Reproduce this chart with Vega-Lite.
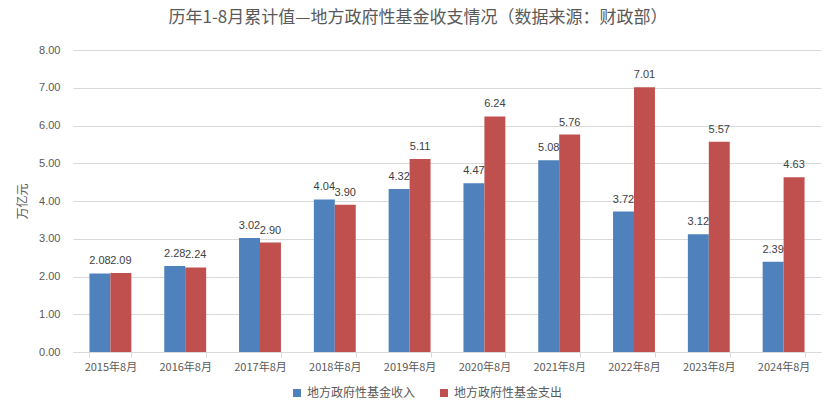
{
  "$schema": "https://vega.github.io/schema/vega-lite/v6.json",
  "autosize": "none",
  "width": 748,
  "height": 302,
  "padding": {"left": 73, "top": 50, "right": 15, "bottom": 63},
  "background": "white",
  "title": {
    "text": "历年1-8月累计值—地方政府性基金收支情况（数据来源：财政部）",
    "fontSize": 17,
    "font": "Noto Sans CJK SC",
    "fontWeight": "normal",
    "color": "#595959",
    "anchor": "middle",
    "dx": -29,
    "offset": 17
  },
  "data": {
    "values": [
      {"period": "2015年8月", "series": "地方政府性基金收入", "value": 2.08},
      {"period": "2015年8月", "series": "地方政府性基金支出", "value": 2.09},
      {"period": "2016年8月", "series": "地方政府性基金收入", "value": 2.28},
      {"period": "2016年8月", "series": "地方政府性基金支出", "value": 2.24},
      {"period": "2017年8月", "series": "地方政府性基金收入", "value": 3.02},
      {"period": "2017年8月", "series": "地方政府性基金支出", "value": 2.90},
      {"period": "2018年8月", "series": "地方政府性基金收入", "value": 4.04},
      {"period": "2018年8月", "series": "地方政府性基金支出", "value": 3.90},
      {"period": "2019年8月", "series": "地方政府性基金收入", "value": 4.32},
      {"period": "2019年8月", "series": "地方政府性基金支出", "value": 5.11},
      {"period": "2020年8月", "series": "地方政府性基金收入", "value": 4.47},
      {"period": "2020年8月", "series": "地方政府性基金支出", "value": 6.24},
      {"period": "2021年8月", "series": "地方政府性基金收入", "value": 5.08},
      {"period": "2021年8月", "series": "地方政府性基金支出", "value": 5.76},
      {"period": "2022年8月", "series": "地方政府性基金收入", "value": 3.72},
      {"period": "2022年8月", "series": "地方政府性基金支出", "value": 7.01},
      {"period": "2023年8月", "series": "地方政府性基金收入", "value": 3.12},
      {"period": "2023年8月", "series": "地方政府性基金支出", "value": 5.57},
      {"period": "2024年8月", "series": "地方政府性基金收入", "value": 2.39},
      {"period": "2024年8月", "series": "地方政府性基金支出", "value": 4.63}
    ]
  },
  "encoding": {
    "x": {
      "field": "period",
      "type": "nominal",
      "sort": null,
      "scale": {"paddingInner": 0.44, "paddingOuter": 0.22},
      "axis": {
        "title": null,
        "labelAngle": 0,
        "labelFontSize": 11,
        "labelFont": "Noto Sans CJK SC",
        "labelColor": "#595959",
        "labelPadding": 4,
        "domainColor": "#d9d9d9",
        "tickColor": "#d9d9d9",
        "tickSize": 5,
        "tickBand": "extent",
        "grid": false
      }
    },
    "xOffset": {
      "field": "series",
      "type": "nominal",
      "sort": ["地方政府性基金收入", "地方政府性基金支出"],
      "scale": {"paddingInner": 0, "paddingOuter": 0}
    },
    "y": {
      "field": "value",
      "type": "quantitative",
      "scale": {"domain": [0, 8], "nice": false},
      "axis": {
        "title": "万亿元",
        "titleFont": "Noto Sans CJK SC",
        "titleFontSize": 12,
        "titleFontWeight": "normal",
        "titleColor": "#595959",
        "titlePadding": 9,
        "values": [0, 1, 2, 3, 4, 5, 6, 7, 8],
        "format": ".2f",
        "labelFontSize": 11,
        "labelFont": "Liberation Sans",
        "labelColor": "#595959",
        "labelPadding": 13,
        "ticks": false,
        "domain": false,
        "gridColor": "#d9d9d9",
        "gridWidth": 1
      }
    }
  },
  "layer": [
    {
      "mark": {"type": "bar"},
      "encoding": {
        "color": {
          "field": "series",
          "type": "nominal",
          "sort": ["地方政府性基金收入", "地方政府性基金支出"],
          "scale": {"range": ["#4F81BD", "#C0504D"]},
          "legend": {
            "title": null,
            "orient": "none",
            "legendX": 218,
            "legendY": 337,
            "direction": "horizontal",
            "symbolType": "square",
            "symbolSize": 64,
            "symbolStrokeWidth": 0,
            "labelFont": "Noto Sans CJK SC",
            "labelFontSize": 12,
            "labelColor": "#595959",
            "columnPadding": 22
          }
        }
      }
    },
    {
      "mark": {
        "type": "text",
        "baseline": "bottom",
        "dy": -7,
        "fontSize": 11,
        "font": "Liberation Sans",
        "color": "#404040"
      },
      "encoding": {
        "text": {"field": "value", "type": "quantitative", "format": ".2f"}
      }
    }
  ],
  "config": {
    "view": {"stroke": null}
  }
}
